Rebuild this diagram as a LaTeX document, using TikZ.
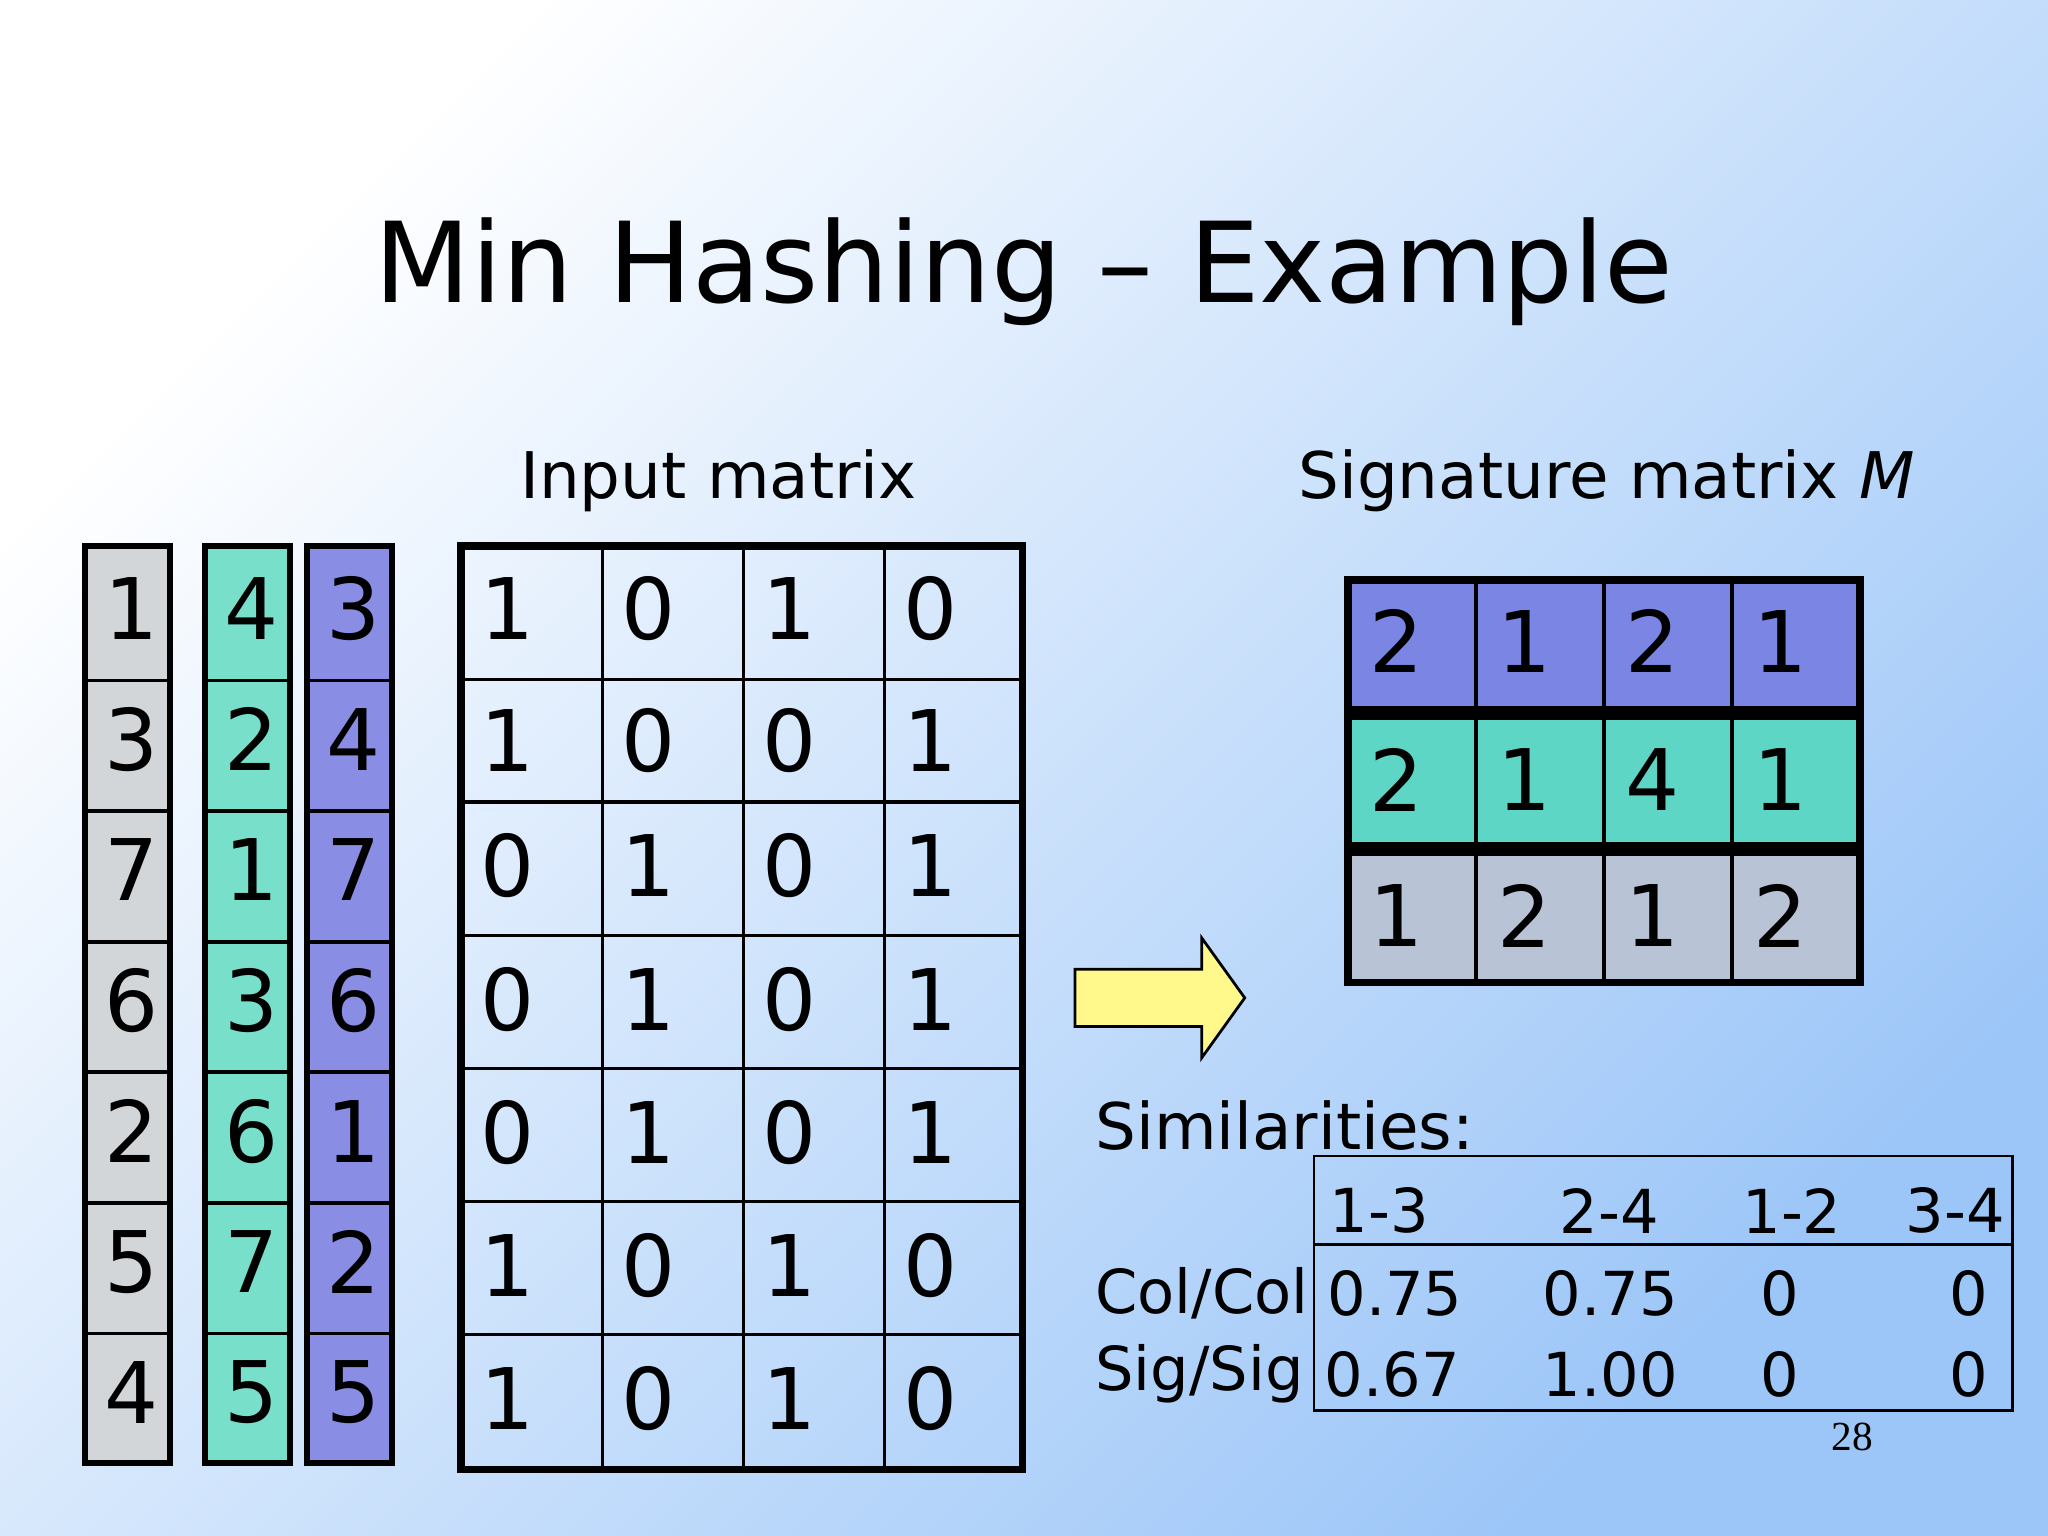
\documentclass[tikz,border=0pt]{standalone}
\usepackage{fontspec}
\setmainfont{DejaVu Sans}
\newfontfamily\pgfont{Liberation Serif}
\definecolor{bgb}{HTML}{9CC6F8}
\definecolor{cgray}{HTML}{D3D6D9}
\definecolor{cgreen}{HTML}{78DFCB}
\definecolor{cpurp}{HTML}{8A8DE4}
\definecolor{sgray}{HTML}{B8C4D6}
\definecolor{sgreen}{HTML}{5ED6C6}
\definecolor{spurp}{HTML}{7B86E4}
\tikzset{dig/.style={font=\fontsize{18.5}{20}\selectfont,anchor=west,inner sep=0pt},
 lab/.style={font=\fontsize{14}{16}\selectfont,inner sep=0pt},
 sim/.style={font=\fontsize{13.2}{15}\selectfont,inner sep=0pt}}
\begin{document}
\begin{tikzpicture}[x=0.01cm,y=-0.01cm]
\shade[shading=axis,top color=white,bottom color=bgb,shading angle=45] (0,0) rectangle (1568,1176);
\useasboundingbox (0,0) rectangle (1568,1176);
\node[font=\fontsize{24.3}{27}\selectfont,inner sep=0pt] (title) at (784,208) {Min Hashing – Example};
\node[lab] (inlab) at (550,368) {Input matrix};
\node[lab] (siglab) at (1230,368) {Signature matrix \textit{M}};
% permutation columns
\foreach \xa/\xb/\c/\vals in {65/130/cgray/{1,3,7,6,2,5,4},157/222/cgreen/{4,2,1,3,6,7,5},235/300/cpurp/{3,4,7,6,1,2,5}}{
  \fill[\c] (\xa,418) rectangle (\xb,1120);
  \foreach \y in {521,621,721,821,921,1021} \draw[line width=0.8pt] (\xa,\y)--(\xb,\y);
  \draw[line width=1.4pt] (\xa,418) rectangle (\xb,1120);
  \foreach \v [count=\i] in \vals \node[dig] (p\xa-\i) at (\xa+14,418+100*\i-52) {\v};
}
% input matrix
\draw[line width=0.7pt] (461,418)--(461,1125) (569,418)--(569,1125) (677,418)--(677,1125);
\foreach \y in {520,614,716,818,920,1022} \draw[line width=0.7pt] (353,\y)--(783,\y);
\draw[line width=1.6pt] (353,418) rectangle (783,1125);
\foreach \y/\r in {466/{1,0,1,0},567/{1,0,0,1},663/{0,1,0,1},765/{0,1,0,1},867/{0,1,0,1},969/{1,0,1,0},1071/{1,0,1,0}}
  \foreach \v [count=\j] in \r \node[dig] (m\y-\j) at (353+108*\j-94,\y) {\v};
% arrow
\draw[fill=yellow!45,line width=0.6pt] (823,742)--(920,742)--(920,718)--(953,764)--(920,810)--(920,786)--(823,786)--cycle;
\coordinate (arr) at (888,764);
% signature matrix
\fill[spurp] (1032,444) rectangle (1424,546);
\fill[sgreen] (1032,546) rectangle (1424,650);
\fill[sgray] (1032,650) rectangle (1424,752);
\foreach \x in {1130,1228,1326} \draw[line width=0.8pt] (\x,444)--(\x,752);
\draw[line width=3pt] (1032,546)--(1424,546) (1032,650)--(1424,650);
\draw[line width=1.6pt] (1032,444) rectangle (1424,752);
\foreach \y/\r in {491/{2,1,2,1},597/{2,1,4,1},701/{1,2,1,2}}
  \foreach \v [count=\j] in \r \node[dig] (s\y-\j) at (1032+98*\j-82,\y) {\v};
% similarities
\node[lab,anchor=west] (simlab) at (838,862) {Similarities:};
\draw[line width=0.6pt] (1006,885) rectangle (1541,1080);
\draw[line width=0.6pt] (1006,953)--(1541,953);
\foreach \t/\x in {1-3/1056,2-4/1232,1-2/1372,3-4/1497} \node[sim] (h\t) at (\x,927) {\t};
\node[sim,anchor=west] (cc) at (838,990) {Col/Col};
\node[sim,anchor=west] (ss) at (838,1052) {Sig/Sig};
\foreach \t/\x [count=\i] in {0.75/1068,0.75/1233,0/1363,0/1507} \node[sim] (c\i) at (\x,990) {\t};
\foreach \t/\x [count=\i] in {0.67/1066,1.00/1233,0/1363,0/1507} \node[sim] (g\i) at (\x,1052) {\t};
\node[font=\fontsize{9}{10}\selectfont\pgfont,inner sep=0pt] (pg) at (1418,1100) {28};
\end{tikzpicture}
\end{document}
